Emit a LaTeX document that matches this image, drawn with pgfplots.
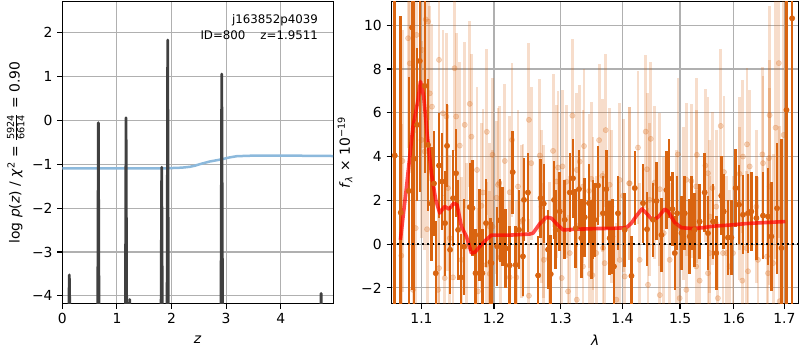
\documentclass[border=0pt]{standalone}
\usepackage{fontspec}
\setmainfont{DejaVu Sans}
\usepackage{pgfplots}
\pgfplotsset{compat=1.18}
\usepackage{pgfplotstable}
\definecolor{dk}{RGB}{217,100,16}
\definecolor{gridc}{RGB}{176,176,176}
\definecolor{bl}{RGB}{140,185,220}
\definecolor{spk}{RGB}{64,64,64}

\pgfplotstableread{
x y e
1.0653 4.05 15
1.0730 1.44 9
1.0834 2.43 5.2
1.0877 9.90 12
1.0903 3.90 8
1.0942 5.45 3.5
1.0978 8.37 6
1.1044 7.23 4
1.1087 4.53 3
1.1132 1.85 2.6
1.1167 2.77 2.4
1.1190 -1.33 2.4
1.1234 3.59 2.4
1.1275 2.86 2.2
1.1316 0.96 2.4
1.1343 4.49 1.9
1.1384 -0.26 2.0
1.1425 2.10 2.2
1.1466 3.24 2.0
1.1494 0.65 2.3
1.1535 -1.52 2.0
1.1577 -0.12 2.2
1.1656 1.69 2.0
1.1694 1.64 2.2
1.1737 -1.33 2.0
1.1796 0.42 2.1
1.1834 -1.33 2.0
1.1886 0.96 2.0
1.1949 -0.82 2.0
1.1963 -0.87 1.9
1.2044 -0.10 1.8
1.2083 1.09 1.9
1.2122 0.80 1.8
1.2170 -0.20 1.8
1.2228 -0.97 1.8
1.2272 3.29 1.9
1.2316 -0.95 1.8
1.2365 0.65 1.8
1.2424 -0.56 1.8
1.2439 2.02 1.9
1.2498 2.36 1.8
1.2652 -1.43 1.8
1.2688 2.10 1.8
1.2738 1.85 1.8
1.2804 -0.25 1.8
1.2845 -1.37 1.8
1.2896 2.02 1.8
1.2922 0.65 1.8
1.2984 1.49 1.8
1.3062 1.11 1.8
1.3141 2.36 1.8
1.3193 3.01 1.8
1.3236 0.73 1.8
1.3288 2.51 1.8
1.3326 0.27 1.8
1.3379 1.23 1.8
1.3449 1.87 1.8
1.3487 0.20 1.8
1.3513 1.11 1.8
1.3538 1.11 1.7
1.3595 2.68 1.8
1.3676 1.41 1.7
1.3731 2.51 1.8
1.3786 0.27 1.7
1.3830 0.35 1.7
1.3857 -1.02 1.8
1.3924 1.41 1.7
1.4037 0.65 1.7
1.4151 -1.45 1.8
1.4207 2.56 1.7
1.4348 1.87 1.8
1.4418 0.68 1.7
1.4522 1.11 1.7
1.4581 1.97 1.8
1.4669 0.42 1.7
1.4757 2.47 1.8
1.4804 2.99 1.8
1.4864 1.60 1.7
1.4905 -0.41 1.7
1.4947 1.41 1.7
1.5025 0.50 1.7
1.5085 1.41 1.7
1.5174 0.35 1.7
1.5205 1.41 1.7
1.5262 0.65 1.7
1.5357 1.03 1.7
1.5450 2.36 1.8
1.5511 0.50 1.7
1.5606 1.03 1.7
1.5667 -0.41 1.7
1.5762 2.21 1.8
1.5806 1.49 1.7
1.5888 0.30 1.7
1.5953 0.30 1.7
1.6035 2.56 1.8
1.6099 1.80 1.8
1.6176 1.34 1.8
1.6274 1.41 1.8
1.6340 1.49 1.8
1.6439 1.19 1.9
1.6570 1.30 2.0
1.6670 1.26 2.2
1.6738 0.35 2.5
1.6852 1.64 3
1.6941 -0.18 5
1.7043 6.13 20
1.7158 10.32 20
}\darkdata

\pgfplotstableread{
x y e
1.0737 -0.53 6
1.0752 3.80 6
1.0825 9.41 5
1.0847 8.26 5
1.0889 -2.09 5
1.0925 0.73 5
1.0935 9.56 4.5
1.1000 4.76 4.5
1.1013 8.87 4.5
1.1043 4.23 4.5
1.1057 10.27 4.5
1.1074 0.68 4
1.1088 10.17 4.5
1.1110 6.89 4
1.1140 6.28 3.8
1.1221 -2.09 3.8
1.1234 8.42 3.8
1.1234 -1.10 3.8
1.1288 5.98 3.8
1.1311 -1.55 3.8
1.1334 5.83 3.8
1.1355 2.56 3.8
1.1380 0.27 3.8
1.1424 -1.52 3.8
1.1445 8.04 3.8
1.1467 5.83 3.8
1.1517 4.50 3.8
1.1540 -0.72 3.8
1.1586 5.45 3.8
1.1610 -0.11 3.8
1.1656 6.41 3.8
1.1679 4.91 3.8
1.1758 3.39 3.8
1.1772 -2.16 3.8
1.1820 1.75 3.8
1.1843 2.36 3.8
1.1889 -0.95 3.8
1.1897 5.13 3.8
1.1939 -1.36 3.8
1.1939 0.80 3.8
1.1978 4.08 3.5
1.1978 0.80 3.5
1.2036 2.12 3.5
1.2058 2.71 3.5
1.2075 2.79 3.5
1.2093 -0.60 3.5
1.2156 3.80 3.5
1.2228 -1.52 3.5
1.2228 2.37 3.5
1.2262 4.76 3.5
1.2326 -1.52 3.5
1.2350 2.63 3.5
1.2400 1.03 3.5
1.2424 1.09 3.5
1.2513 5.68 3.5
1.2513 -2.36 3.5
1.2548 3.70 3.5
1.2677 4.05 3.5
1.2703 1.71 3.5
1.2730 1.03 3.5
1.2738 -0.72 3.5
1.2820 -0.65 3.5
1.2881 4.26 3.5
1.2934 2.86 3.5
1.2958 3.50 3.5
1.3015 -1.55 3.5
1.3026 3.55 3.5
1.3088 2.85 3.5
1.3114 -2.16 3.5
1.3141 -0.41 3.5
1.3183 5.87 3.5
1.3253 3.39 3.5
1.3253 -2.54 3.5
1.3299 3.77 3.5
1.3352 -1.02 3.5
1.3352 2.63 3.5
1.3368 4.48 3.5
1.3449 2.43 3.5
1.3460 -1.36 3.5
1.3487 2.98 3.5
1.3503 -1.42 3.5
1.3513 1.41 3.5
1.3566 -0.41 3.5
1.3612 4.75 3.5
1.3666 3.12 3.5
1.3676 -0.18 3.5
1.3703 -0.87 3.5
1.3720 5.21 3.5
1.3786 2.71 3.5
1.3814 1.71 3.5
1.3897 -2.54 3.5
1.3953 -0.72 3.5
1.3953 2.93 3.5
1.4009 2.21 3.5
1.4037 -1.48 3.5
1.4111 2.78 3.5
1.4121 2.78 3.5
1.4262 4.41 3.5
1.4291 -0.72 3.5
1.4395 5.14 3.5
1.4418 3.42 3.5
1.4435 -1.86 3.5
1.4464 2.02 3.5
1.4482 4.81 3.5
1.4552 2.81 3.5
1.4640 2.51 3.5
1.4640 -2.33 3.5
1.4710 0.50 3.5
1.4815 -0.72 3.5
1.4936 0.80 3.5
1.4963 4.10 3.5
1.4993 -2.47 3.5
1.5055 1.87 3.5
1.5114 2.94 3.5
1.5114 -2.09 3.5
1.5205 2.88 3.5
1.5293 -1.02 3.5
1.5293 2.63 3.5
1.5306 4.08 3.5
1.5357 -1.67 3.5
1.5463 3.59 3.5
1.5511 3.24 3.5
1.5511 -1.33 3.5
1.5543 -0.41 3.5
1.5543 1.26 3.5
1.5594 2.56 3.5
1.5667 1.71 3.5
1.5697 -2.47 3.5
1.5749 5.40 3.5
1.5793 -0.41 3.5
1.5812 3.29 3.5
1.5856 -0.41 3.5
1.5920 -1.02 3.5
1.5984 -0.41 3.5
1.6112 3.21 3.5
1.6112 1.87 3.5
1.6164 -1.67 3.5
1.6176 4.00 3.5
1.6243 -0.18 3.5
1.6255 4.56 3.5
1.6274 -1.24 3.5
1.6306 3.55 3.5
1.6439 1.71 3.5
1.6471 -0.72 3.8
1.6557 4.10 4
1.6570 3.70 4
1.6650 -0.57 4.5
1.6670 -1.33 4.5
1.6690 3.93 4.5
1.6702 2.63 4.5
1.6702 5.89 5
1.6771 -0.87 5
1.6821 5.32 6
1.6887 8.27 8
1.6903 -2.61 8
1.6985 4.99 8
}\lightdata

\pgfplotsset{myax/.style={
  scale only axis,
  axis line style={black, line width=0.8pt},
  grid=major,
  major grid style={gridc, line width=0.8pt},
  tick align=outside,
  major tick length=3.5pt,
  tick style={black, line width=0.8pt},
  xtick pos=bottom, ytick pos=left,
  ticklabel style={font=\fontsize{10}{12}\selectfont},
  label style={font=\fontsize{10}{12}\selectfont},
  /pgf/number format/assume math mode=true,
}}

\begin{document}
\begin{tikzpicture}

\begin{axis}[myax,
  at={(44.9pt,33.1pt)}, anchor=south west,
  width=195.1pt, height=217.9pt,
  xmin=0, xmax=4.96, ymin=-4.18, ymax=2.705,
  xtick={0,1,2,3,4}, xticklabels={0,1,2,3,4},
  ytick={-4,-3,-2,-1,0,1,2}, yticklabels={−4,−3,−2,−1,0,1,2},
  xlabel={\textit{z}},
  xlabel style={at={(axis description cs:0.5,-0.1193)}, anchor=center},
  ylabel={log \textit{p}(\textit{z}) / \textit{χ}\textsuperscript{2} = $\frac{\hbox{\fontsize{7}{7}\selectfont 5924}}{\hbox{\fontsize{7}{7}\selectfont 6614}}$ = 0.90},
  ylabel style={at={(axis description cs:-0.172,0.5)}, anchor=center},
  spike/.style={spk, line width=2pt, line join=round},
]
\addplot[bl, line width=1.8pt] coordinates {
(0,-1.095) (0.5,-1.095) (1.0,-1.095) (1.5,-1.095) (1.88,-1.095) (2.19,-1.08)
(2.34,-1.06) (2.43,-1.035) (2.52,-1.0) (2.7,-0.94) (2.92,-0.89) (3.05,-0.85)
(3.19,-0.82) (3.4,-0.81) (3.57,-0.805) (4.0,-0.805) (4.5,-0.81) (4.96,-0.815)};
\addplot[spike] coordinates {(0.116,-4.6) (0.128,-3.52) (0.140,-4.6)};
\addplot[spike] coordinates {(0.648,-4.6) (0.66,-0.057) (0.672,-4.6)};
\addplot[spike] coordinates {(1.155,-4.6) (1.167,0.057) (1.179,-4.6)};
\addplot[spike] coordinates {(1.224,-4.6) (1.234,-4.08) (1.244,-4.6)};
\addplot[spike] coordinates {(1.808,-4.6) (1.82,-1.07) (1.832,-4.6)};
\addplot[spike] coordinates {(1.918,-4.6) (1.93,1.825) (1.942,-4.6)};
\addplot[spike] coordinates {(2.905,-4.6) (2.92,1.05) (2.935,-4.6)};
\addplot[spike] coordinates {(4.728,-4.6) (4.74,-3.94) (4.752,-4.6)};
\node[anchor=east, inner sep=0pt, font=\fontsize{8.5}{10}\selectfont] at (axis description cs:0.9446,0.938) {j163852p4039};
\node[anchor=east, inner sep=0pt, font=\fontsize{8.5}{10}\selectfont] at (axis description cs:0.9446,0.889) {ID=800\ \ \ \ z=1.9511};
\end{axis}

\begin{axis}[myax,
  at={(282pt,33.1pt)}, anchor=south west,
  width=293.5pt, height=217.7pt,
  xmode=log, xmin=1.0611, xmax=1.7298, ymin=-2.73, ymax=11.08,
  xtick={1.1,1.2,1.3,1.4,1.5,1.6,1.7}, xticklabels={1.1,1.2,1.3,1.4,1.5,1.6,1.7},
  xminorticks=false,
  ytick={-2,0,2,4,6,8,10}, yticklabels={−2,0,2,4,6,8,10},
  xlabel={\textit{λ}},
  xlabel style={at={(axis description cs:0.5,-0.1194)}, anchor=center},
  ylabel={\textit{f}\textsubscript{\textit{λ}} × 10\textsuperscript{−19}},
  ylabel style={at={(axis description cs:-0.1138,0.5)}, anchor=center},
]
\addplot[only marks, mark=*, mark size=1.9pt, color=dk, opacity=0.25,
  mark options={draw=none, fill=dk},
  error bars/.cd, y dir=both, y explicit,
  error bar style={line width=2.1pt, dk, opacity=0.22}, error mark=none]
  table[x=x, y=y, y error=e] {\lightdata};
\addplot[only marks, mark=*, mark size=1.9pt, color=dk,
  mark options={draw=none, fill=dk},
  error bars/.cd, y dir=both, y explicit,
  error bar style={line width=1.8pt, dk}, error mark=none]
  table[x=x, y=y, y error=e] {\darkdata};
\addplot[red, opacity=0.7, line width=2.6pt, line join=round] coordinates {
(1.0726,0.2) (1.0805,2.63) (1.0889,5.37) (1.0955,6.59) (1.0987,7.43) (1.1030,6.74)
(1.1074,5.07) (1.1132,3.24) (1.1190,2.02) (1.1244,1.42) (1.1311,1.72) (1.1370,1.60)
(1.1434,1.87) (1.1480,1.80) (1.1540,0.80) (1.1610,0.35) (1.1679,-0.41) (1.1725,-0.38)
(1.1796,-0.11) (1.1889,0.20) (1.1963,0.41) (1.2228,0.41) (1.2525,0.46) (1.2575,0.50)
(1.2677,0.93) (1.2779,1.23) (1.2857,1.18) (1.2934,0.93) (1.3037,0.65) (1.3245,0.68)
(1.3566,0.71) (1.3840,0.72) (1.4065,0.75) (1.4151,0.96) (1.4235,1.29) (1.4331,1.61)
(1.4407,1.41) (1.4512,1.10) (1.4610,1.23) (1.4729,1.60) (1.4788,1.49) (1.4905,0.98)
(1.5025,0.75) (1.5232,0.71) (1.5414,0.75) (1.5606,0.82) (1.5920,0.87) (1.6243,0.94)
(1.6570,0.98) (1.7019,1.03)};
\addplot[black, line width=1.4pt, dash pattern=on 1.4pt off 2.3pt] coordinates {(1.0611,0) (1.7298,0)};
\node[anchor=center, inner sep=0pt, font=\fontsize{5}{6}\selectfont] at (axis description cs:0.8607,-0.1224) {Sun Apr 26 17:47:29 2020};
\end{axis}
\path (0,0) rectangle (576pt,252pt);
\end{tikzpicture}
\end{document}
